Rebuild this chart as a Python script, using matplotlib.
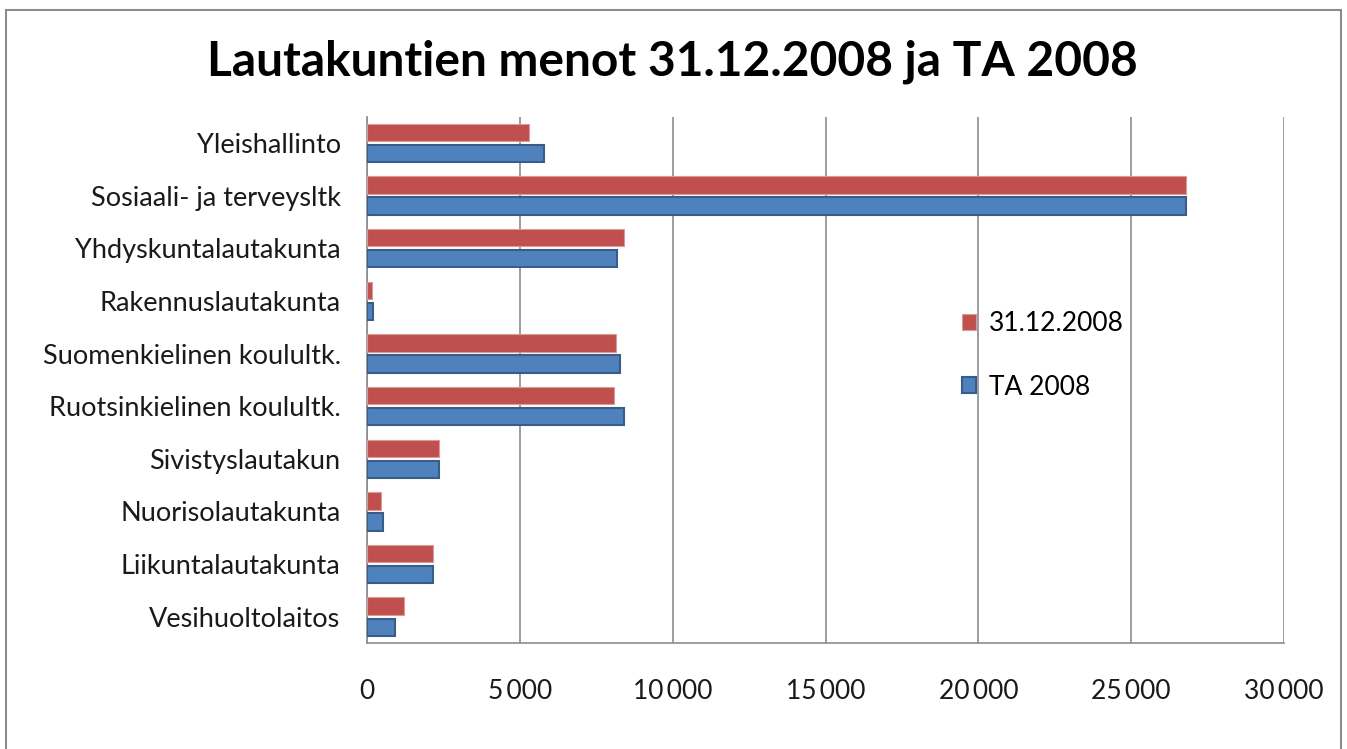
import numpy as np
import matplotlib
matplotlib.use('Agg')
import matplotlib.pyplot as plt
from matplotlib.patches import Rectangle

# lautakunnat, ylhäältä alas
categories = ['Yleishallinto', 'Sosiaali- ja terveysltk', 'Yhdyskuntalautakunta',
              'Rakennuslautakunta', 'Suomenkielinen koulultk.', 'Ruotsinkielinen koulultk.',
              'Sivistyslautakun', 'Nuorisolautakunta', 'Liikuntalautakunta', 'Vesihuoltolaitos']
toteuma = [5305, 26785, 8415, 164, 8143, 8088, 2338, 458, 2152, 1212]   # 31.12.2008
ta2008 = [5776, 26780, 8176, 196, 8275, 8415, 2338, 535, 2152, 907]     # TA 2008
xticks = [0, 5000, 10000, 15000, 20000, 25000, 30000]
xticklabels = ['0', '5\u2009000', '10\u2009000', '15\u2009000', '20\u2009000', '25\u2009000', '30\u2009000']

plt.rcParams['font.family'] = ['Lato', 'DejaVu Sans']

fig = plt.figure(figsize=(13.47, 7.49), dpi=100)
ax = fig.add_axes([0.2725, 0.1415, 0.6808, 0.7027])

y = np.arange(len(categories))
h = 0.33
ax.barh(y - 0.2, toteuma, height=h, color='#C0504D', edgecolor='#D99A98', linewidth=0.8,
        label='31.12.2008', zorder=3)
ax.barh(y + 0.2, ta2008, height=h, color='#4F81BD', edgecolor='#385D8A', linewidth=1.5,
        label='TA 2008', zorder=3)

ax.set_ylim(len(categories) - 0.5, -0.5)
ax.set_xlim(0, 30000)
ax.set_yticks(y)
ax.set_yticklabels(categories, fontsize=19.5, color='#1a1a1a')
ax.set_xticks(xticks)
ax.set_xticklabels(xticklabels, fontsize=19, color='#1a1a1a')
ax.tick_params(axis='x', length=0, pad=26)
ax.tick_params(axis='y', length=0, pad=19)
ax.xaxis.grid(True, color='#8c8c8c', linewidth=1.2, zorder=0)
for s in ['top', 'right']:
    ax.spines[s].set_visible(False)
for s in ['left', 'bottom']:
    ax.spines[s].set_color('#8c8c8c')
    ax.spines[s].set_linewidth(1.2)

ax.legend(loc='upper left', bbox_to_anchor=(0.634, 0.655), frameon=False, fontsize=19,
          handlelength=0.55, handleheight=0.55, handletextpad=0.5, labelspacing=1.45,
          borderpad=0)

fig.text(0.4995, 0.917, 'Lautakuntien menot 31.12.2008 ja TA 2008', ha='center', va='center',
         fontsize=34.5, fontweight='bold')

# kuvion reunus
fig.patches.append(Rectangle((6 / 1347, -0.01), 1335 / 1347, 1 - 10 / 749 + 0.01,
                             transform=fig.transFigure, fill=False, edgecolor='#8c8c8c',
                             linewidth=1.5))

fig.savefig('out.png', dpi=100)
